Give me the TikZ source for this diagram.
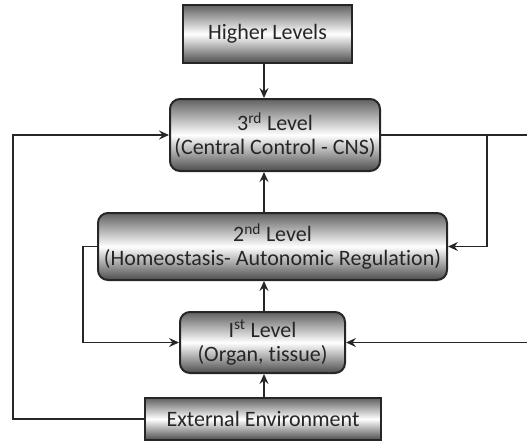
\documentclass[tikz,border=0pt]{standalone}
\usepackage{fontspec}
\setmainfont[Ligatures=NoCommon]{Carlito}
\usetikzlibrary{arrows.meta,calc}
\begin{document}
\begin{tikzpicture}[x=1pt,y=-1pt,
  box/.style={draw=black!85, line width=2pt, top color=black!62, bottom color=black!70,
    middle color=white, align=center, inner sep=0pt, font=\fontsize{22}{23.5}\selectfont,
    text=black!85},
  lvl/.style={box, rounded corners=10pt},
  arr/.style={line width=1.6pt, draw=black!85, -{Stealth[length=10pt,width=9pt,inset=3.5pt]}},
  ln/.style={line width=1.6pt, draw=black!85}]
\useasboundingbox (0,0) rectangle (527,440);
% column of the vertical links
\coordinate (mid) at (264,0);
% boxes
\node[box, minimum width=169pt, minimum height=58pt] (higher) at (267.5,34) {Higher Levels};
\node[lvl, minimum width=210pt, minimum height=72pt] (l3) at (275,135)
  {3\textsuperscript{rd} Level\\(Central Control - CNS)};
\node[lvl, minimum width=349pt, minimum height=67pt] (l2) at (272.5,246.5)
  {2\textsuperscript{nd} Level\\(Homeostasis- Autonomic Regulation)};
\node[lvl, minimum width=165pt, minimum height=61pt] (l1) at (262.5,342.5)
  {I\textsuperscript{st} Level\\(Organ, tissue)};
\node[box, minimum width=236pt, minimum height=42pt] (ext) at (263,419)
  {External Environment};
% free ends and corners
\coordinate (rOut) at (527,135);
\coordinate (rJ) at (487,135);
\coordinate (rIn) at (527,342.5);
\coordinate (lOut) at (13,419);
\coordinate (lIn) at (83,246.5);
% vertical links
\draw[arr] (higher.south -| mid) -- (l3.north -| mid);
\draw[arr] (l2.north -| mid) -- (l3.south -| mid);
\draw[arr] (l1.north -| mid) -- (l2.south -| mid);
\draw[arr] (ext.north -| mid) -- (l1.south -| mid);
% side links
\draw[ln] (l3.east) -- (rOut);
\draw[arr] (rJ) |- (l2.east);
\draw[arr] (rIn) -- (l1.east);
\draw[arr] (l2.west) -- (lIn) |- (l1.west);
\draw[arr] (ext.west) -- (lOut) |- (l3.west);
\end{tikzpicture}
\end{document}
